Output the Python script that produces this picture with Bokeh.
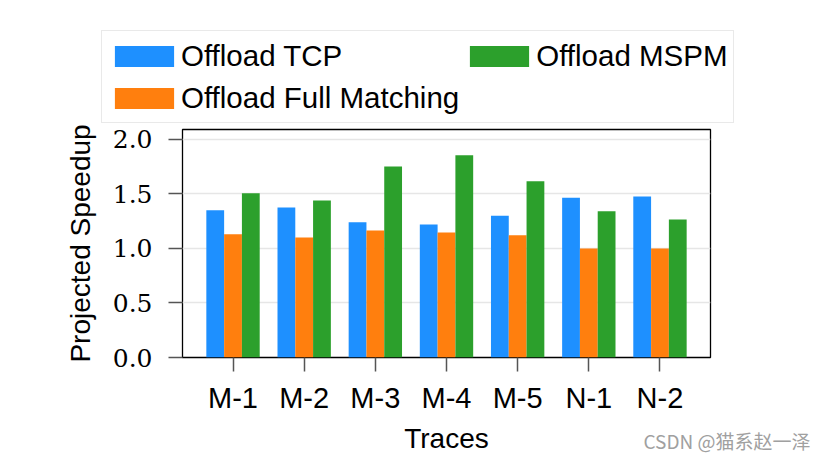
from bokeh.plotting import figure
from bokeh.layouts import column
from bokeh.models import (ColumnDataSource, FactorRange, Legend, LegendItem,
                          FixedTicker, Label, Range1d, PrintfTickFormatter)
from bokeh.transform import dodge
from bokeh.embed import file_html
from bokeh.resources import INLINE

traces = ["M-1", "M-2", "M-3", "M-4", "M-5", "N-1", "N-2"]
offload_tcp = [1.35, 1.375, 1.24, 1.22, 1.30, 1.465, 1.475]
offload_full = [1.13, 1.10, 1.165, 1.145, 1.12, 1.00, 1.00]
offload_mspm = [1.505, 1.44, 1.75, 1.855, 1.615, 1.34, 1.265]
y_ticks = [0.0, 0.5, 1.0, 1.5, 2.0]
series_names = ["Offload TCP", "Offload Full Matching", "Offload MSPM"]
series_colors = ["#1e90ff", "#ff7f0e", "#2ca02c"]

SANS = "Liberation Sans"
SERIF = "DejaVu Serif"
W = 831


def no_align(fig):
    try:
        fig.frame_align = False
    except Exception:
        pass


# ---------------- legend strip ----------------
LH = 125
lf = figure(width=W, height=LH, x_range=Range1d(0, W), y_range=Range1d(0, LH),
            output_backend="svg", toolbar_location=None,
            x_axis_location=None, y_axis_location=None,
            min_border=0, outline_line_color=None)
lf.grid.visible = False
no_align(lf)
dummy = []
for name, col in zip(series_names, series_colors):
    dummy.append(lf.vbar(x=[0], top=[0], width=0, fill_color=col, line_color=None))
legend = Legend(
    items=[LegendItem(label=n, renderers=[r]) for n, r in zip(series_names, dummy)],
    location=(101, 2), ncols=2,
    glyph_width=74, glyph_height=26, label_height=39, label_standoff=-6,
    label_text_font=SANS, label_text_font_size="29.5px", label_text_color="black",
    padding=5, spacing=3, margin=0,
    border_line_color="#d4d4d4", border_line_width=1.5,
    background_fill_color="white", background_fill_alpha=1.0,
)
lf.add_layout(legend, "center")

# ---------------- main chart ----------------
MH = 292
src = ColumnDataSource(dict(traces=traces, tcp=offload_tcp,
                            full=offload_full, mspm=offload_mspm))

p = figure(x_range=FactorRange(factors=traces, range_padding=0.06),
           y_range=Range1d(0, 2.09),
           width=W, height=MH, output_backend="svg", toolbar_location=None,
           min_border_left=182, min_border_right=121,
           min_border_top=4, min_border_bottom=60)
no_align(p)

for key, off, col in zip(["tcp", "full", "mspm"], [-0.25, 0.0, 0.25], series_colors):
    p.vbar(x=dodge("traces", off, range=p.x_range), top=key, width=0.25,
           source=src, fill_color=col, line_color=None)

p.outline_line_color = "black"
p.outline_line_width = 1.3
p.xgrid.grid_line_color = None
p.ygrid.grid_line_color = "#e6e6e6"
p.ygrid.grid_line_width = 1.5

p.yaxis.ticker = FixedTicker(ticks=y_ticks)
p.yaxis.formatter = PrintfTickFormatter(format="%.1f")
for ax in (p.xaxis[0], p.yaxis[0]):
    ax.axis_line_color = None
    ax.major_tick_line_color = "#555555"
    ax.major_tick_line_width = 1.5
    ax.major_tick_out = 14
    ax.major_tick_in = 0
    ax.minor_tick_line_color = None
    ax.axis_label_text_font = SANS
    ax.axis_label_text_font_size = "28px"
    ax.axis_label_text_font_style = "normal"
    ax.axis_label_text_color = "black"
    ax.major_label_text_color = "black"

p.yaxis.major_label_text_font = SERIF
p.yaxis.major_label_text_font_size = "25px"
p.yaxis.major_label_standoff = 16
p.yaxis.axis_label = "Projected Speedup"
p.yaxis.axis_label_standoff = 14

p.xaxis.major_label_text_font = SANS
p.xaxis.major_label_text_font_size = "29px"
p.xaxis.major_label_standoff = 10

# ---------------- bottom strip (axis title + watermark) ----------------
BH = 457 - LH - MH
bf = figure(width=W, height=BH, x_range=Range1d(0, W), y_range=Range1d(0, BH),
            output_backend="svg", toolbar_location=None,
            x_axis_location=None, y_axis_location=None,
            min_border=0, outline_line_color=None)
bf.grid.visible = False
no_align(bf)
bf.add_layout(Label(x=446, y=19, text="Traces", text_font=SANS,
                    text_font_size="28px", text_align="center",
                    text_baseline="middle", text_color="black"))
bf.add_layout(Label(x=643, y=17, text="CSDN @猫系赵一泽",
                    text_font="Noto Sans CJK SC", text_font_size="19px",
                    text_baseline="middle", text_color="#a0a0a0"))

layout = column(lf, p, bf, spacing=0)
open("out.html", "w").write(file_html(layout, INLINE))
